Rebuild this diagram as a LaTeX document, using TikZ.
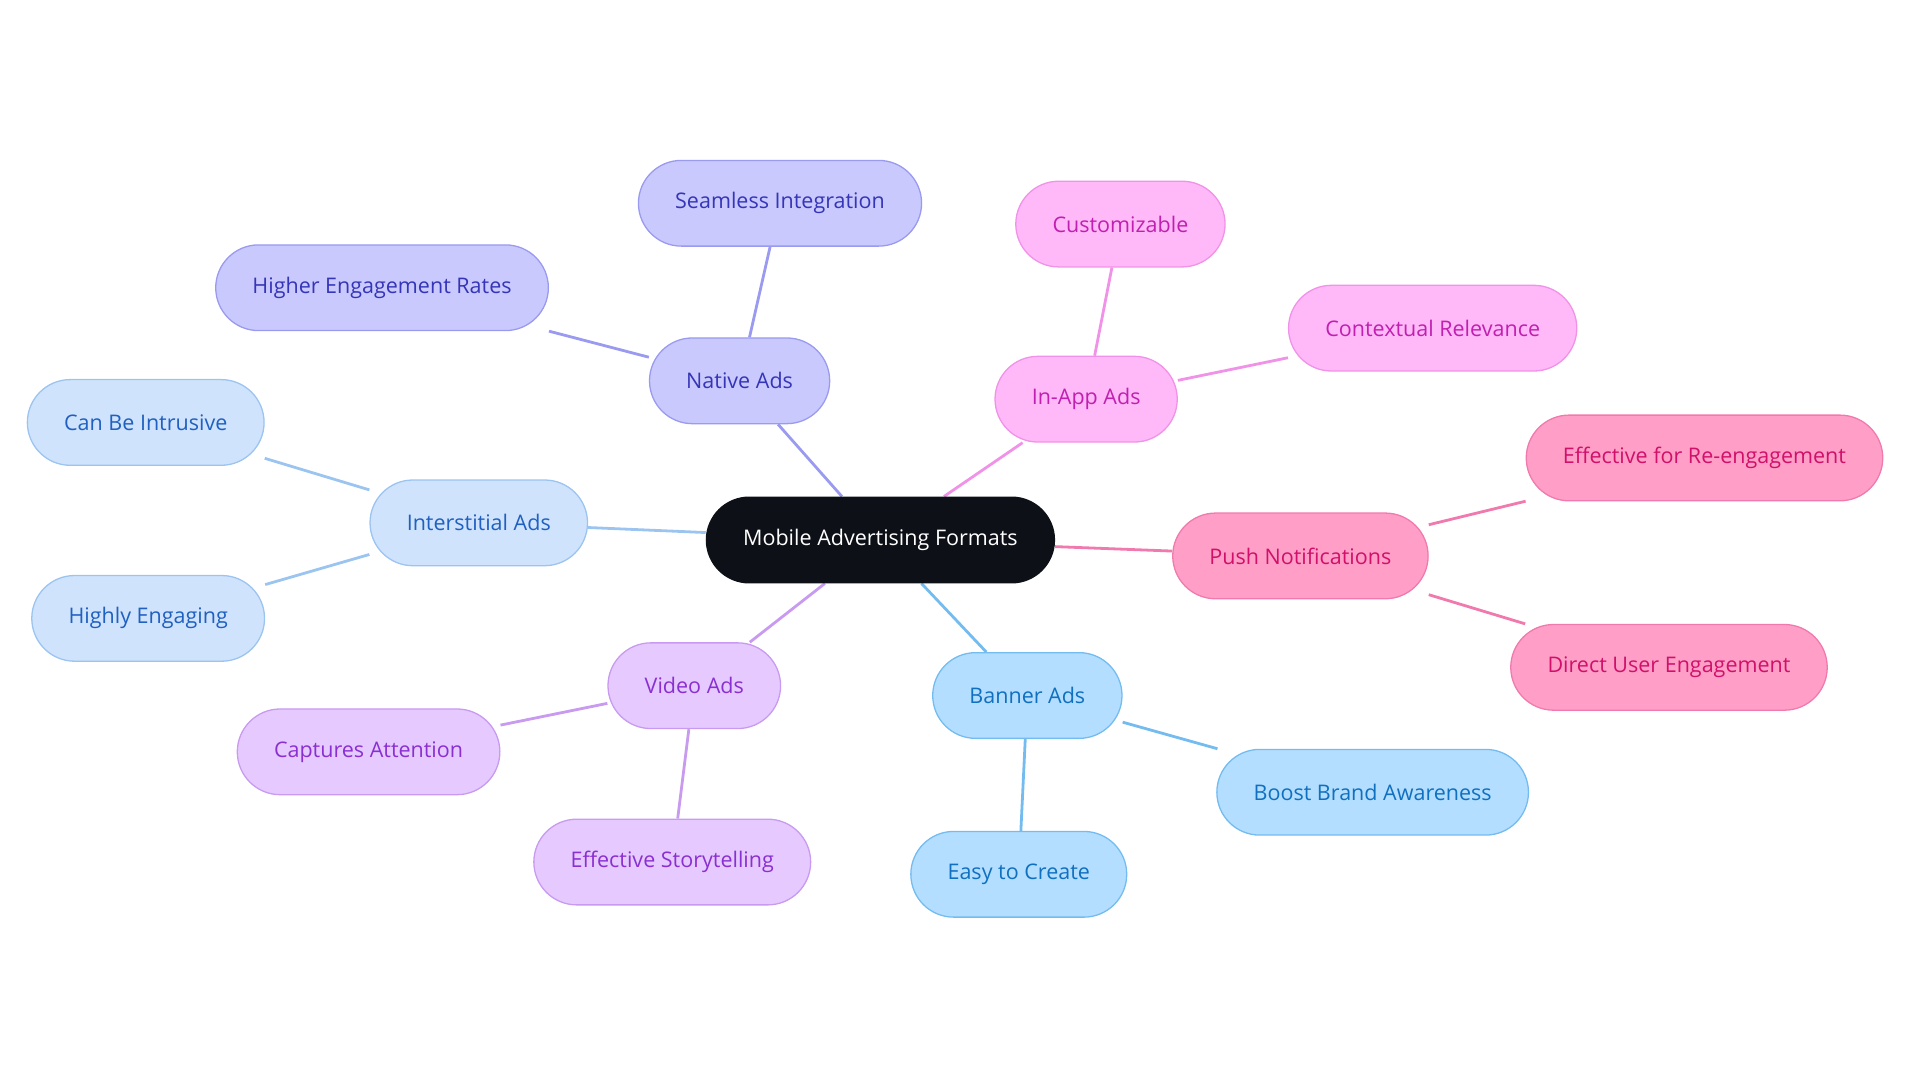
\documentclass[tikz,border=0pt]{standalone}
\usepackage{fontspec}
\setmainfont{Open Sans}
\usetikzlibrary{backgrounds}
\definecolor{centfill}{HTML}{0D1117}
\definecolor{natfill}{HTML}{C9C9FD}\definecolor{natline}{HTML}{9A9AF0}\definecolor{nattext}{HTML}{3535B8}
\definecolor{appfill}{HTML}{FFB8F8}\definecolor{appline}{HTML}{F092E8}\definecolor{apptext}{HTML}{C020B0}
\definecolor{pushfill}{HTML}{FF9FC8}\definecolor{pushline}{HTML}{F07AAE}\definecolor{pushtext}{HTML}{D0106A}
\definecolor{banfill}{HTML}{B3DEFF}\definecolor{banline}{HTML}{74BCF0}\definecolor{bantext}{HTML}{1070C0}
\definecolor{vidfill}{HTML}{E6C9FF}\definecolor{vidline}{HTML}{C89AF0}\definecolor{vidtext}{HTML}{8A30D0}
\definecolor{intfill}{HTML}{CFE3FC}\definecolor{intline}{HTML}{9CC4F0}\definecolor{inttext}{HTML}{2060C0}
\tikzset{
    pill/.style={draw, rounded corners=0.7cm, minimum height=1.4cm, inner xsep=0.6cm,
        font=\fontsize{10}{12}\selectfont, line width=0.6pt},
    kind/.style={pill, fill=#1fill, draw=#1line, text=#1text},
    link/.style={line width=1.3pt, draw=#1line}
}
\begin{document}
\begin{tikzpicture}[x=0.02cm, y=-0.02cm]
    \useasboundingbox (0,0) rectangle (1568,884);
    % centre
    \node [pill, fill=centfill, draw=centfill, text=white] (mobile) at (719,441) {Mobile Advertising Formats};
    % native
    \node [kind=nat] (native) at (604,311) {Native Ads};
    \node [kind=nat] (seamless) at (637,166) {Seamless Integration};
    \node [kind=nat] (higher) at (312,235) {Higher Engagement Rates};
    % in-app
    \node [kind=app] (inapp) at (887,326) {In-App Ads};
    \node [kind=app] (custom) at (915,183) {Customizable};
    \node [kind=app] (context) at (1170,268) {Contextual Relevance};
    % push
    \node [kind=push] (push) at (1062,454) {Push Notifications};
    \node [kind=push] (reengage) at (1392,374) {Effective for Re-engagement};
    \node [kind=push] (direct) at (1363,545) {Direct User Engagement};
    % banner
    \node [kind=ban] (banner) at (839,568) {Banner Ads};
    \node [kind=ban] (boost) at (1121,647) {Boost Brand Awareness};
    \node [kind=ban] (easy) at (832,714) {Easy to Create};
    % video
    \node [kind=vid] (video) at (567,560) {Video Ads};
    \node [kind=vid] (captures) at (301,614) {Captures Attention};
    \node [kind=vid] (story) at (549,704) {Effective Storytelling};
    % interstitial
    \node [kind=int] (inter) at (391,427) {Interstitial Ads};
    \node [kind=int] (intrusive) at (119,345) {Can Be Intrusive};
    \node [kind=int] (highly) at (121,505) {Highly Engaging};

    \begin{scope}[on background layer]
        \draw [link=nat] (mobile) -- (native);
        \draw [link=nat] (native) -- (seamless);
        \draw [link=nat] (native) -- (higher);
        \draw [link=app] (mobile) -- (inapp);
        \draw [link=app] (inapp) -- (custom);
        \draw [link=app] (inapp) -- (context);
        \draw [link=push] (mobile) -- (push);
        \draw [link=push] (push) -- (reengage);
        \draw [link=push] (push) -- (direct);
        \draw [link=ban] (mobile) -- (banner);
        \draw [link=ban] (banner) -- (boost);
        \draw [link=ban] (banner) -- (easy);
        \draw [link=vid] (mobile) -- (video);
        \draw [link=vid] (video) -- (captures);
        \draw [link=vid] (video) -- (story);
        \draw [link=int] (mobile) -- (inter);
        \draw [link=int] (inter) -- (intrusive);
        \draw [link=int] (inter) -- (highly);
    \end{scope}
\end{tikzpicture}
\end{document}
